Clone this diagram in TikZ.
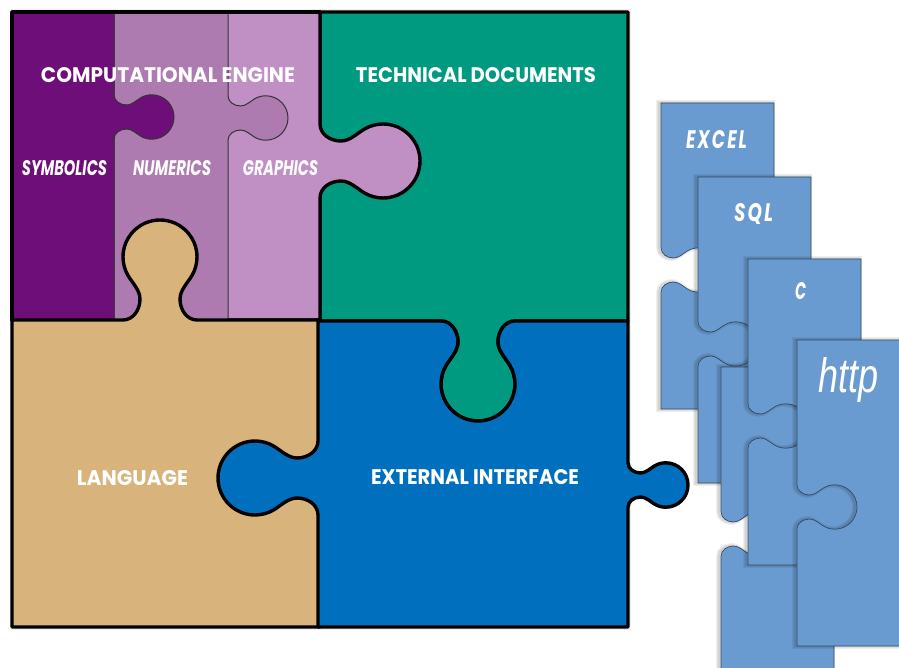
\documentclass[tikz,border=0pt]{standalone}
\usepackage{fontspec}
\setmainfont{Poppins}
\newfontfamily\httpfont{Liberation Sans}
\definecolor{cPurple}{HTML}{6E0E78}
\definecolor{cNum}{HTML}{AE7BB0}
\definecolor{cGra}{HTML}{C08FC3}
\definecolor{cTeal}{HTML}{009A80}
\definecolor{cTan}{HTML}{D8B47C}
\definecolor{cBlue}{HTML}{0070BE}
\definecolor{cDoc}{HTML}{6A9BD0}
\definecolor{cDocLine}{HTML}{34495F}
\newcommand\tab[7]{%
 {[cm={#3*#7,-(#4)*#7,#5*#7,-(#6)*#7,(#1,#2)},x=1pt,y=1pt]
  -- (0,-37) .. controls (0,-27) and (10,-20) .. (21,-20)
  .. controls (30,-20) and (37.6,-28) .. (44.5,-32)
  .. controls (50.1,-35.25) and (56.5,-37) .. (63,-37)
  .. controls (83.4,-37) and (100,-20.4) .. (100,0)
  .. controls (100,20.4) and (83.4,37) .. (63,37)
  .. controls (56.5,37) and (50.1,35.25) .. (44.5,32)
  .. controls (37.6,28) and (30,20) .. (21,20)
  .. controls (10,20) and (0,27) .. (0,37)}}
\newcommand\docshape[2]{(#1,#2) -- (#1+113,#2) -- (#1+113,#2+306) -- (#1,#2+306) \tab{#1}{#2+167}{1}{0}{0}{-1}{0.6} -- cycle}
\newcommand\docpiece[2]{%
  \foreach \w in {2,4,6}{\path[draw=black,draw opacity=0.06,line width=\w pt,shift={(-2,0)}] \docshape{#1}{#2};}
  \path[fill=cDoc,draw=cDocLine,line width=0.7pt] \docshape{#1}{#2};}
\newcommand\lbl[6][]{\node[labeltext] (#2) at (#3,#4) {\resizebox{#5pt}{#6pt}{#1}};}
\tikzset{
  labeltext/.style={inner sep=0pt,outer sep=0pt,text=white,anchor=center},
  heavy/.style={draw=black,line width=3.4pt,line join=round},
  light/.style={draw=black!80,line width=1pt}
}
\begin{document}
\begin{tikzpicture}[x=1pt,y=-1pt]
\useasboundingbox (0,0) rectangle (899,668);
\fill[white] (0,0) rectangle (899,668);
% main puzzle soft shadow
\draw[black,opacity=0.06,line width=5pt] (12,12) rectangle (628,627);
% teal
\path[fill=cTeal,heavy] (320,12) -- (628,12) -- (628,321) -- (517,321) \tab{478}{321}{0}{1}{-1}{0}{1} -- (320,321) -- cycle;
% graphics
\path[fill=cGra,heavy] (200,12) -- (320,12) \tab{320}{161}{1}{0}{0}{1}{1} -- (320,320) -- (200,320) -- cycle;
% numerics
\path[fill=cNum,light] (114,12) -- (228,12) \tab{228}{118}{1}{0}{0}{1}{0.6} -- (228,320) -- (114,320) -- cycle;
% purple
\path[fill=cPurple,light] (12,12) -- (114,12) \tab{114}{117}{1}{0}{0}{1}{0.6} -- (114,320) -- (12,320) -- cycle;
\draw[heavy,line cap=round] (12,320) -- (12,12) -- (320,12);
% language
\path[fill=cTan,heavy] (12,320) \tab{160}{320}{0}{-1}{1}{0}{1} -- (320,320) -- (320,627) -- (12,627) -- cycle;
% blue
\path[fill=cBlue,heavy] (318,321) \tab{478}{321}{0}{1}{1}{0}{1} -- (628,321) \tab{628}{485}{1}{0}{0}{1}{0.6} -- (628,627) -- (318,627) \tab{318}{478}{-1}{0}{0}{-1}{1} -- cycle;
% documents
\docpiece{661}{103}
\docpiece{698}{177}
\docpiece{721}{367}
\docpiece{748}{259}
\docpiece{797}{340}
% labels
\lbl[\bfseries COMPUTATIONAL ENGINE]{computational}{168}{75.5}{254}{15}
\lbl[\bfseries TECHNICAL DOCUMENTS]{technical}{476}{75.5}{240}{15}
\lbl[\bfseries LANGUAGE]{language}{132.5}{478}{111}{15}
\lbl[\bfseries EXTERNAL INTERFACE]{external}{475}{477.5}{208}{15}
\lbl[\bfseries\itshape SYMBOLICS]{symbolics}{64.5}{168.5}{85}{15}
\lbl[\bfseries\itshape NUMERICS]{numerics}{172}{168.5}{78}{15}
\lbl[\bfseries\itshape GRAPHICS]{graphics}{280.5}{168.5}{75}{15}
\lbl[\bfseries\itshape\addfontfeatures{LetterSpace=12}EXCEL]{excel}{716.5}{140}{61}{18}
\lbl[\bfseries\itshape\addfontfeatures{LetterSpace=12}SQL]{sql}{753.5}{214}{39}{18}
\lbl[\bfseries\itshape C]{cnode}{800.5}{291.5}{11}{17}
\lbl[\httpfont\itshape http]{http}{848}{380.5}{60}{35}
\end{tikzpicture}
\end{document}
